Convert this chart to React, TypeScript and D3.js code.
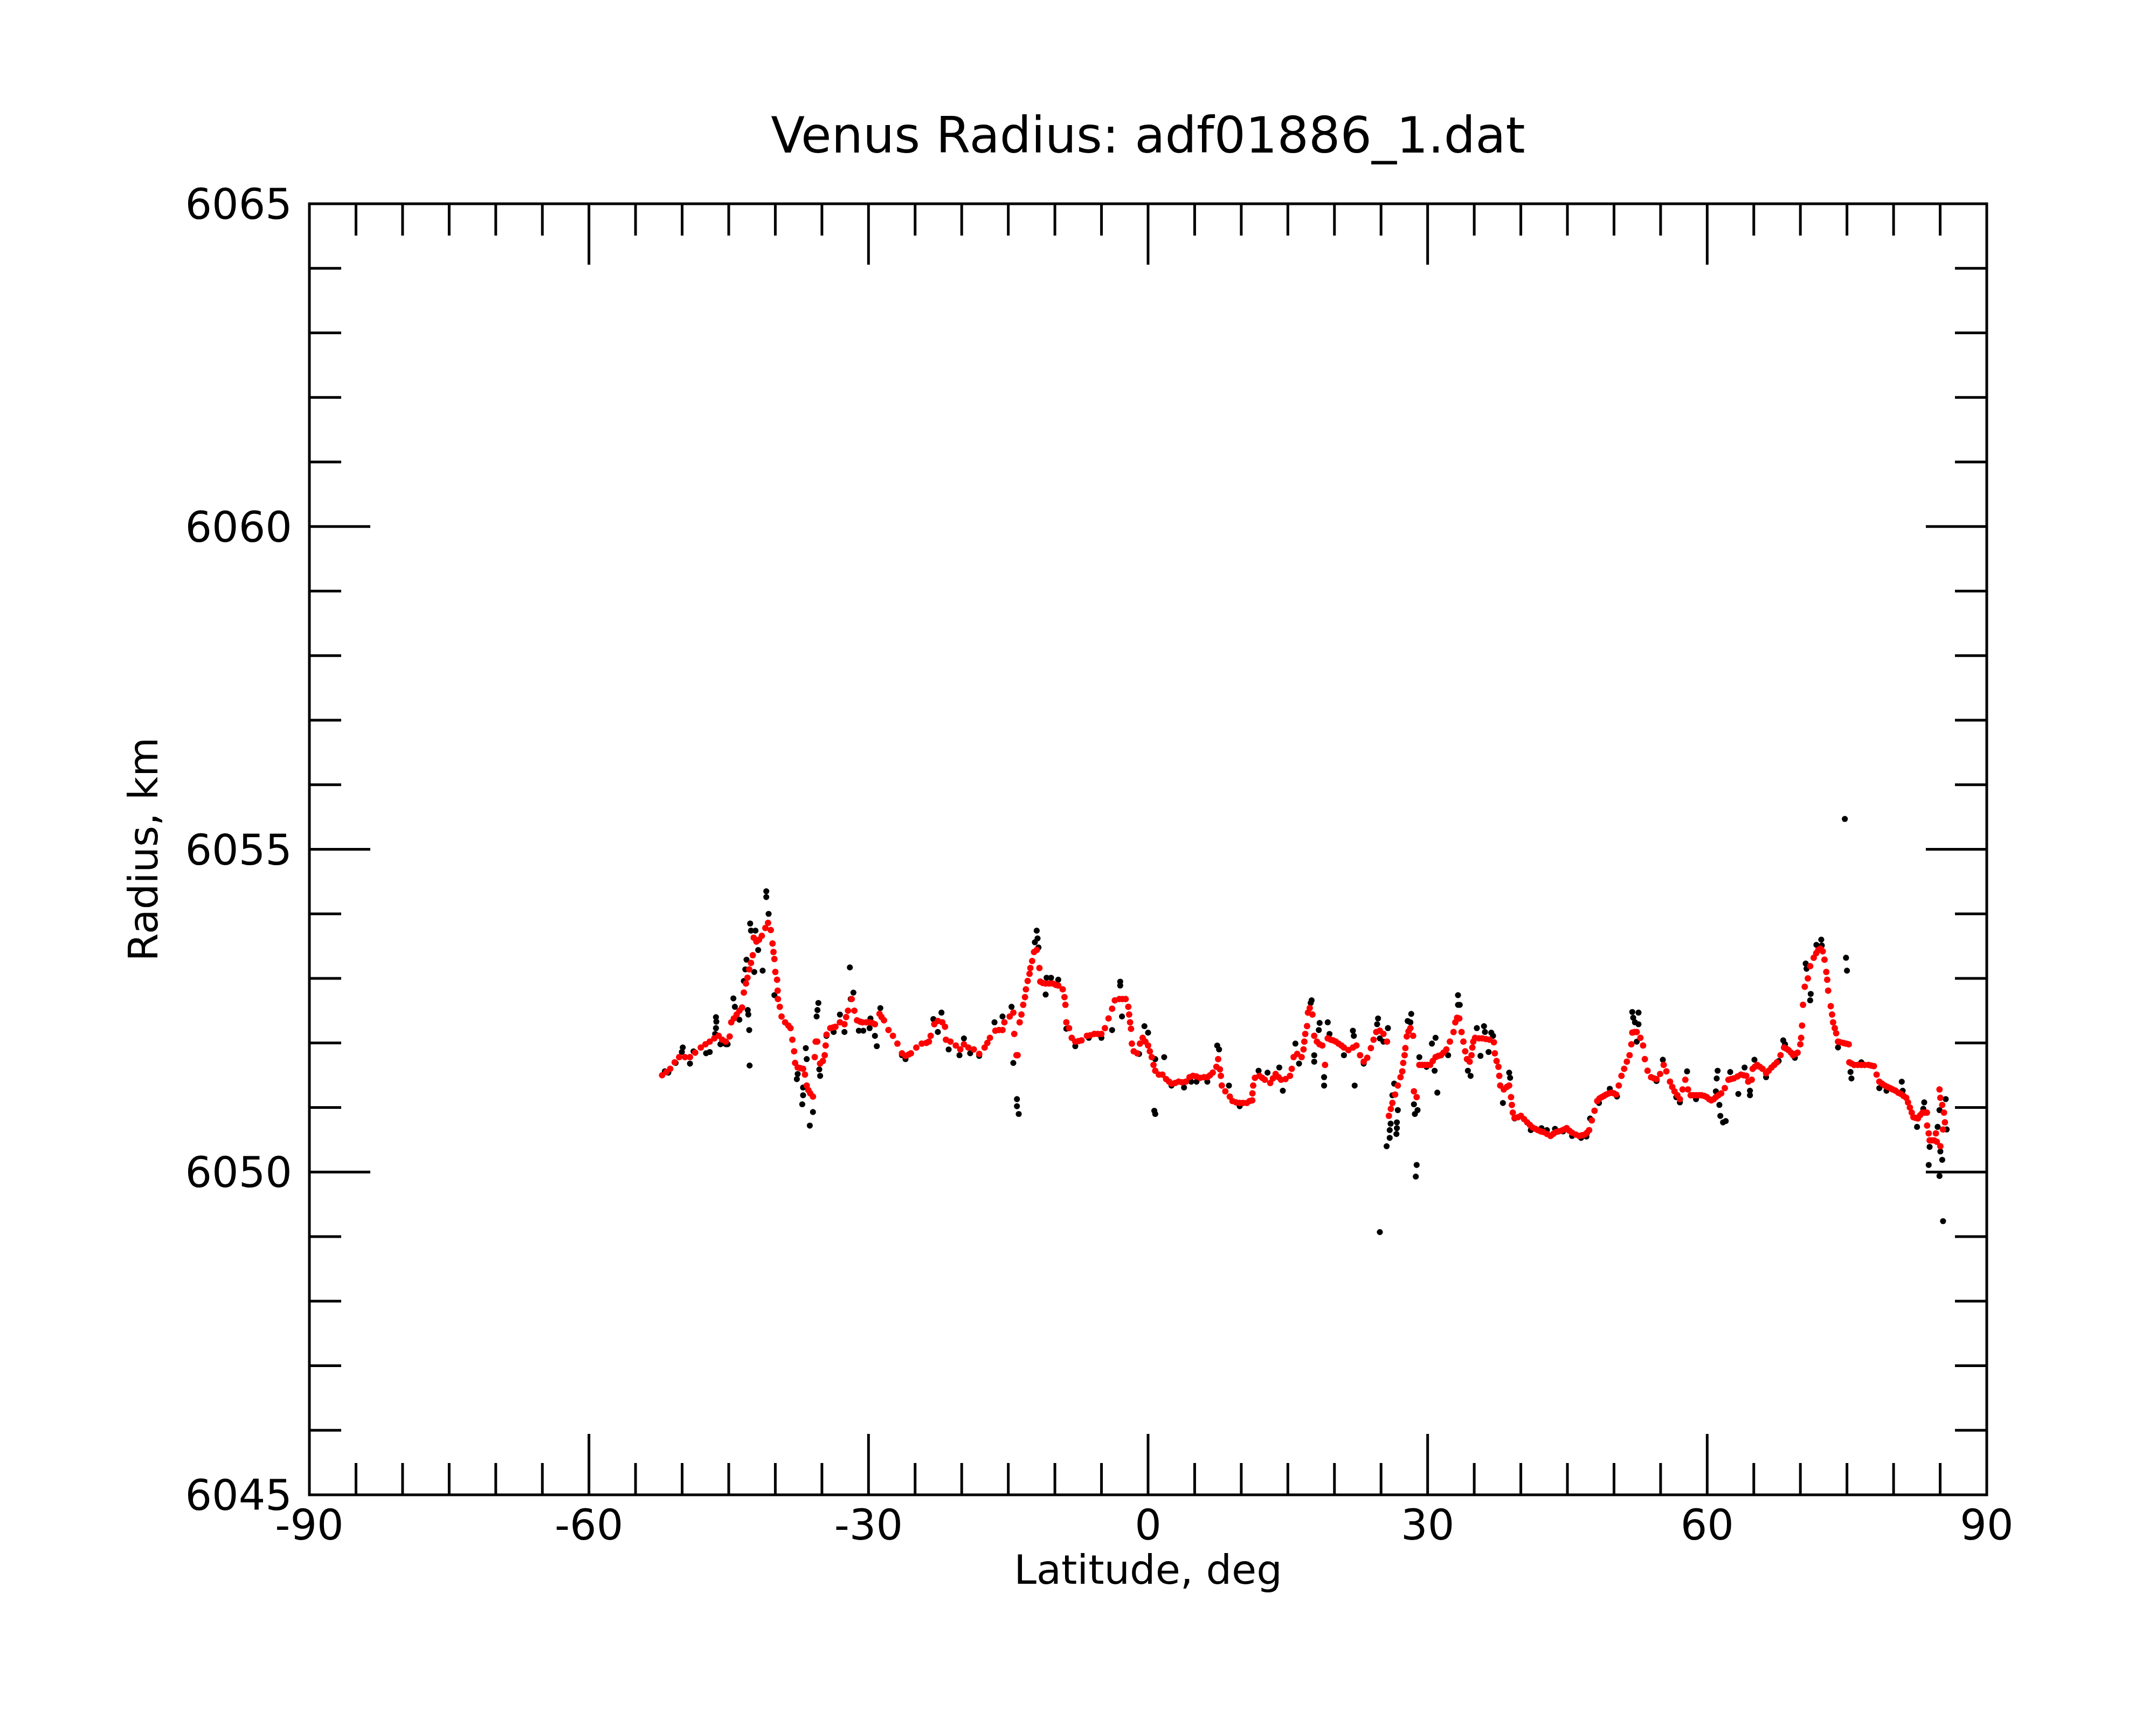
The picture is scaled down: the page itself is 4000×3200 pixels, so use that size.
import React, { useEffect, useRef } from 'react';
import * as d3 from 'd3';

// smoothed radius profile (red), [latitude deg, radius km]
const smoothed: [number, number][] = [
  [-52.15, 6051.5], [-51.7, 6051.55], [-51.28, 6051.6], [-50.8, 6051.7], [-50.32, 6051.78],
  [-49.7, 6051.78], [-49.16, 6051.78], [-48.6, 6051.85], [-48.0, 6051.93], [-47.5, 6051.98],
  [-47.04, 6052.02], [-46.55, 6052.07], [-46.08, 6052.11], [-45.7, 6052.05], [-45.31, 6052.02],
  [-44.9, 6052.1], [-44.73, 6052.32], [-44.45, 6052.38], [-44.15, 6052.44], [-43.85, 6052.5],
  [-43.57, 6052.55], [-43.38, 6052.78], [-43.15, 6052.92], [-42.99, 6053.01], [-42.8, 6053.14],
  [-42.61, 6053.24], [-42.42, 6053.36], [-42.32, 6053.63], [-42.03, 6053.57], [-41.75, 6053.6],
  [-41.45, 6053.66], [-41.07, 6053.78], [-40.78, 6053.86], [-40.49, 6053.75], [-40.3, 6053.54],
  [-40.2, 6053.41], [-40.1, 6053.3], [-40.0, 6053.1], [-39.81, 6052.98], [-39.75, 6052.81],
  [-39.72, 6052.68], [-39.52, 6052.56], [-39.33, 6052.41], [-38.95, 6052.32], [-38.6, 6052.27],
  [-38.37, 6052.23], [-38.17, 6052.05], [-37.98, 6051.87], [-37.88, 6051.69], [-37.6, 6051.62],
  [-37.3, 6051.61], [-37.02, 6051.6], [-36.82, 6051.51], [-36.63, 6051.34], [-36.45, 6051.27],
  [-36.25, 6051.22], [-35.96, 6051.17], [-35.77, 6051.78], [-35.67, 6052.02], [-35.5, 6052.02],
  [-35.2, 6051.68], [-34.9, 6051.72], [-34.7, 6051.81], [-34.6, 6051.96], [-34.5, 6052.13],
  [-34.1, 6052.23], [-33.8, 6052.24], [-33.55, 6052.25], [-33.07, 6052.32], [-32.58, 6052.29],
  [-32.4, 6052.4], [-32.2, 6052.5], [-31.81, 6052.68], [-31.52, 6052.5], [-31.23, 6052.35],
  [-30.9, 6052.33], [-30.66, 6052.32], [-30.25, 6052.32], [-29.88, 6052.32], [-29.6, 6052.31],
  [-29.31, 6052.29], [-28.82, 6052.45], [-28.6, 6052.4], [-28.34, 6052.35], [-27.86, 6052.2],
  [-27.38, 6052.11], [-26.9, 6051.99], [-26.41, 6051.84], [-26.03, 6051.8], [-25.7, 6051.82],
  [-25.45, 6051.84], [-24.87, 6051.93], [-24.29, 6051.99], [-23.8, 6052.0], [-23.52, 6052.02],
  [-23.33, 6052.11], [-22.94, 6052.29], [-22.56, 6052.34], [-22.08, 6052.32], [-21.79, 6052.25],
  [-21.69, 6052.05], [-21.21, 6052.02], [-20.63, 6051.96], [-20.15, 6051.9], [-19.76, 6051.98],
  [-19.28, 6051.93], [-18.7, 6051.9], [-18.12, 6051.83], [-17.54, 6051.93], [-17.25, 6052.0],
  [-16.97, 6052.08], [-16.39, 6052.19], [-16.0, 6052.2], [-15.62, 6052.2], [-15.42, 6052.32],
  [-14.85, 6052.41], [-14.46, 6052.47], [-14.36, 6052.14], [-14.12, 6051.81], [-14.0, 6051.81],
  [-13.78, 6052.32], [-13.59, 6052.44], [-13.4, 6052.59], [-13.21, 6052.71], [-13.11, 6052.83],
  [-12.92, 6052.96], [-12.72, 6053.07], [-12.63, 6053.16], [-12.44, 6053.27], [-12.24, 6053.41],
  [-11.95, 6053.44], [-11.66, 6053.16], [-11.57, 6052.95], [-11.3, 6052.93], [-10.99, 6052.92],
  [-10.6, 6052.92], [-10.22, 6052.92], [-9.9, 6052.9], [-9.64, 6052.89], [-9.16, 6052.83],
  [-8.97, 6052.71], [-8.87, 6052.59], [-8.77, 6052.32], [-8.48, 6052.23], [-8.19, 6052.08],
  [-7.81, 6052.02], [-7.45, 6052.03], [-7.14, 6052.04], [-6.56, 6052.11], [-6.2, 6052.12],
  [-5.78, 6052.14], [-5.4, 6052.14], [-5.01, 6052.14], [-4.63, 6052.23], [-4.24, 6052.38],
  [-3.86, 6052.53], [-3.57, 6052.66], [-3.09, 6052.68], [-2.75, 6052.68], [-2.41, 6052.68],
  [-2.12, 6052.56], [-2.03, 6052.44], [-1.93, 6052.32], [-1.83, 6052.22], [-1.74, 6051.99],
  [-1.54, 6051.87], [-1.16, 6051.84], [-0.87, 6051.99], [-0.58, 6052.08], [-0.29, 6052.02],
  [0.0, 6051.96], [0.19, 6051.87], [0.39, 6051.78], [0.58, 6051.66], [0.77, 6051.57],
  [1.16, 6051.51], [1.54, 6051.51], [1.93, 6051.44], [2.25, 6051.4], [2.51, 6051.37],
  [2.9, 6051.38], [3.28, 6051.4], [3.65, 6051.39], [4.05, 6051.4], [4.45, 6051.47],
  [4.82, 6051.49], [5.2, 6051.48], [5.59, 6051.46], [6.0, 6051.47], [6.36, 6051.47],
  [6.65, 6051.5], [6.94, 6051.54], [7.33, 6051.63], [7.52, 6051.75], [7.71, 6051.59],
  [7.81, 6051.49], [7.91, 6051.34], [8.29, 6051.25], [8.77, 6051.17], [9.06, 6051.1],
  [9.45, 6051.08], [9.83, 6051.07], [10.2, 6051.07], [10.6, 6051.07], [10.9, 6051.1],
  [11.18, 6051.11], [11.2, 6051.22], [11.28, 6051.34], [11.47, 6051.46], [11.95, 6051.49],
  [12.25, 6051.46], [12.53, 6051.43], [13.11, 6051.38], [13.4, 6051.45], [13.69, 6051.52],
  [14.0, 6051.47], [14.27, 6051.43], [14.75, 6051.44], [15.23, 6051.49], [15.42, 6051.6],
  [15.62, 6051.78], [16.0, 6051.83], [16.48, 6051.78], [16.68, 6051.9], [16.77, 6052.02],
  [16.87, 6052.14], [17.06, 6052.26], [17.16, 6052.47], [17.35, 6052.54], [17.64, 6052.44],
  [17.83, 6052.11], [18.12, 6052.02], [18.4, 6051.98], [18.7, 6051.96], [18.99, 6051.66],
  [19.28, 6052.07], [19.6, 6052.05], [19.86, 6052.04], [20.15, 6052.02], [20.44, 6051.99],
  [20.75, 6051.96], [21.02, 6051.93], [21.5, 6051.89], [21.98, 6051.93], [22.36, 6051.96],
  [22.75, 6051.81], [23.14, 6051.71], [23.52, 6051.77], [23.91, 6051.92], [24.2, 6052.05],
  [24.49, 6052.17], [24.87, 6052.19], [25.26, 6052.14], [25.64, 6052.02], [25.84, 6050.87],
  [26.05, 6050.98], [26.22, 6051.07], [26.51, 6051.2], [26.8, 6051.34], [27.09, 6051.47],
  [27.28, 6051.56], [27.38, 6051.69], [27.53, 6051.81], [27.61, 6051.92], [27.76, 6052.1],
  [27.95, 6052.18], [28.15, 6052.23], [28.44, 6052.11], [28.53, 6051.25], [28.82, 6051.16],
  [29.11, 6051.66], [29.4, 6051.66], [29.69, 6051.66], [30.0, 6051.66], [30.27, 6051.66],
  [30.55, 6051.72], [30.85, 6051.78], [31.15, 6051.8], [31.43, 6051.81], [31.7, 6051.85],
  [32.01, 6051.9], [32.39, 6052.02], [32.78, 6052.17], [32.97, 6052.32], [33.16, 6052.39],
  [33.4, 6052.38], [33.64, 6052.17], [33.84, 6052.02], [34.03, 6051.87], [34.22, 6051.75],
  [34.51, 6051.71], [34.71, 6051.81], [34.8, 6051.93], [34.9, 6052.02], [35.09, 6052.08],
  [35.5, 6052.07], [35.86, 6052.07], [36.25, 6052.06], [36.63, 6052.05], [37.11, 6052.01],
  [37.21, 6051.84], [37.4, 6051.72], [37.6, 6051.63], [37.69, 6051.49], [37.79, 6051.34],
  [38.17, 6051.28], [38.5, 6051.32], [38.75, 6051.34], [38.95, 6051.16], [39.04, 6051.04],
  [39.14, 6050.92], [39.33, 6050.84], [39.7, 6050.85], [40.01, 6050.87], [40.35, 6050.82],
  [40.68, 6050.77], [40.97, 6050.73], [41.26, 6050.69], [41.55, 6050.67], [41.84, 6050.65],
  [42.13, 6050.63], [42.42, 6050.62], [42.8, 6050.59], [43.19, 6050.56], [43.48, 6050.59],
  [43.77, 6050.62], [44.06, 6050.63], [44.35, 6050.64], [44.64, 6050.66], [44.92, 6050.68],
  [45.2, 6050.64], [45.5, 6050.61], [45.9, 6050.58], [46.27, 6050.56], [46.56, 6050.57],
  [46.85, 6050.58], [47.1, 6050.61], [47.33, 6050.65], [47.62, 6050.8], [47.91, 6050.95],
  [48.2, 6051.1], [48.44, 6051.14], [48.68, 6051.16], [48.92, 6051.18], [49.16, 6051.2],
  [49.45, 6051.22], [49.74, 6051.23], [49.99, 6051.22], [50.23, 6051.2], [50.51, 6051.34],
  [50.8, 6051.49], [51.09, 6051.6], [51.38, 6051.71], [51.67, 6051.81], [51.86, 6051.98],
  [51.96, 6052.16], [52.2, 6052.17], [52.44, 6052.17], [52.83, 6052.08], [53.12, 6051.96],
  [53.31, 6051.75], [53.6, 6051.57], [53.98, 6051.47], [54.3, 6051.45], [54.56, 6051.44],
  [54.95, 6051.52], [55.33, 6051.66], [55.62, 6051.56], [56.01, 6051.4], [56.25, 6051.32],
  [56.49, 6051.25], [56.8, 6051.19], [57.07, 6051.13], [57.36, 6051.28], [57.65, 6051.43],
  [57.94, 6051.28], [58.23, 6051.19], [58.5, 6051.19], [58.8, 6051.19], [59.1, 6051.19],
  [59.38, 6051.19], [59.67, 6051.18], [59.96, 6051.16], [60.2, 6051.13], [60.44, 6051.11],
  [60.7, 6051.13], [60.93, 6051.16], [61.2, 6051.19], [61.5, 6051.22], [61.89, 6051.3],
  [62.28, 6051.43], [62.55, 6051.44], [62.85, 6051.45], [63.25, 6051.48], [63.62, 6051.51],
  [63.9, 6051.5], [64.2, 6051.49], [64.4, 6051.4], [64.78, 6051.43], [64.88, 6051.6],
  [65.1, 6051.63], [65.36, 6051.66], [65.65, 6051.63], [65.94, 6051.6], [66.32, 6051.53],
  [66.6, 6051.57], [66.9, 6051.62], [67.2, 6051.66], [67.48, 6051.7], [67.87, 6051.81],
  [68.25, 6051.93], [68.5, 6051.91], [68.73, 6051.89], [69.0, 6051.85], [69.22, 6051.81],
  [69.46, 6051.83], [69.7, 6051.85], [69.99, 6051.98], [70.08, 6052.08], [70.18, 6052.27],
  [70.28, 6052.59], [70.47, 6052.87], [70.8, 6053.0], [71.05, 6053.19], [71.43, 6053.32],
  [71.7, 6053.39], [71.92, 6053.44], [72.15, 6053.46], [72.4, 6053.42], [72.59, 6053.29],
  [72.78, 6053.1], [72.88, 6052.98], [72.98, 6052.81], [73.26, 6052.57], [73.4, 6052.44],
  [73.51, 6052.32], [73.69, 6052.23], [73.84, 6052.15], [74.04, 6052.02], [74.3, 6052.01],
  [74.61, 6052.0], [74.9, 6051.99], [75.19, 6051.98], [75.25, 6051.7], [75.5, 6051.68],
  [75.77, 6051.66], [76.15, 6051.66], [76.54, 6051.66], [76.9, 6051.66], [77.31, 6051.66],
  [77.6, 6051.65], [77.89, 6051.64], [78.18, 6051.51], [78.47, 6051.4], [78.76, 6051.37],
  [79.05, 6051.34], [79.34, 6051.32], [79.63, 6051.3], [79.9, 6051.28], [80.2, 6051.26],
  [80.5, 6051.23], [80.78, 6051.21], [81.07, 6051.18], [81.36, 6051.15], [81.55, 6051.08],
  [81.75, 6051.0], [81.95, 6050.92], [82.13, 6050.85], [82.37, 6050.84], [82.61, 6050.83],
  [82.85, 6050.88], [83.1, 6050.92], [83.35, 6050.92], [83.58, 6050.92], [83.6, 6050.72],
  [83.77, 6050.6], [83.87, 6050.49], [84.1, 6050.49], [84.35, 6050.49], [84.54, 6050.6],
  [84.64, 6050.47], [85.02, 6050.4], [84.93, 6051.28], [85.02, 6051.15], [85.22, 6051.04],
  [85.41, 6050.92], [85.51, 6050.77], [85.31, 6050.66],
];

// raw measurements that stand out from the smoothed curve (black)
const raw: [number, number][] = [
  [-51.86, 6051.56], [-51.48, 6051.54], [-50.7, 6051.69], [-50.03, 6051.86], [-49.93, 6051.93],
  [-49.16, 6051.68], [-48.78, 6051.87], [-47.43, 6051.84], [-47.04, 6051.86], [-46.46, 6052.14],
  [-46.37, 6052.23], [-46.33, 6052.33], [-46.37, 6052.4], [-45.89, 6051.98], [-45.79, 6051.99],
  [-45.31, 6051.98], [-45.12, 6051.98], [-44.5, 6052.69], [-44.34, 6052.56], [-43.86, 6052.36],
  [-43.38, 6052.96], [-43.22, 6053.14], [-43.09, 6053.29], [-42.96, 6052.51], [-42.9, 6052.44],
  [-42.8, 6052.2], [-42.76, 6051.65], [-42.7, 6053.85], [-42.61, 6053.74], [-42.26, 6053.1],
  [-42.13, 6053.74], [-41.84, 6053.44], [-41.36, 6053.12], [-40.97, 6054.35], [-40.97, 6054.26],
  [-40.72, 6054.0], [-40.1, 6052.74], [-37.69, 6051.44], [-37.6, 6051.52], [-37.11, 6051.05],
  [-37.02, 6051.31], [-37.02, 6051.19], [-36.73, 6051.92], [-36.63, 6051.75], [-36.3, 6050.72],
  [-35.96, 6050.93], [-35.57, 6052.41], [-35.48, 6052.51], [-35.38, 6052.62], [-35.28, 6051.59],
  [-35.19, 6051.49], [-34.51, 6052.11], [-33.74, 6052.17], [-33.07, 6052.44], [-32.58, 6052.17],
  [-32.0, 6053.17], [-31.91, 6052.68], [-31.62, 6052.78], [-31.04, 6052.19], [-30.56, 6052.19],
  [-29.88, 6052.23], [-29.79, 6052.38], [-29.31, 6052.11], [-29.11, 6051.95], [-28.73, 6052.54],
  [-26.41, 6051.81], [-26.03, 6051.75], [-23.04, 6052.37], [-22.56, 6052.17], [-22.17, 6052.47],
  [-21.4, 6051.9], [-20.24, 6051.81], [-19.76, 6052.07], [-19.09, 6051.84], [-18.12, 6051.8],
  [-16.48, 6052.32], [-15.62, 6052.41], [-14.65, 6052.56], [-14.46, 6051.69], [-14.07, 6051.13],
  [-14.07, 6051.02], [-13.88, 6050.9], [-12.15, 6053.56], [-11.95, 6053.74], [-11.86, 6053.62],
  [-11.76, 6053.48], [-10.99, 6052.75], [-10.89, 6053.01], [-10.41, 6053.01], [-9.64, 6052.98],
  [-8.77, 6052.22], [-7.81, 6051.95], [-6.36, 6052.08], [-5.01, 6052.08], [-3.86, 6052.2],
  [-2.99, 6052.95], [-2.99, 6052.89], [-2.8, 6052.41], [-0.96, 6051.83], [-0.39, 6052.26],
  [0.0, 6052.16], [0.67, 6050.95], [0.77, 6050.9], [0.77, 6051.75], [1.73, 6051.78],
  [2.51, 6051.34], [3.86, 6051.31], [4.63, 6051.4], [5.2, 6051.4], [6.36, 6051.4],
  [7.42, 6051.96], [7.62, 6051.9], [8.68, 6051.34], [9.83, 6051.02], [11.86, 6051.57],
  [12.82, 6051.54], [14.08, 6051.62], [14.46, 6051.26], [15.81, 6051.99], [16.2, 6051.68],
  [17.45, 6052.62], [17.55, 6052.66], [17.83, 6051.81], [17.83, 6051.71], [18.32, 6052.2],
  [18.41, 6052.31], [18.89, 6051.47], [18.89, 6051.34], [19.28, 6052.32], [19.47, 6052.14],
  [21.02, 6051.81], [21.98, 6052.19], [22.08, 6052.11], [22.17, 6051.34], [23.14, 6051.68],
  [24.58, 6052.29], [24.68, 6052.38], [24.87, 6052.07], [24.87, 6049.07], [25.26, 6052.02],
  [25.6, 6050.4], [25.74, 6052.23], [25.93, 6050.65], [25.93, 6050.53], [26.03, 6050.75],
  [26.22, 6051.19], [26.41, 6051.37], [26.65, 6050.59], [26.7, 6050.77], [26.7, 6050.68],
  [26.8, 6050.96], [27.86, 6052.34], [28.15, 6052.32], [28.24, 6052.45], [28.53, 6051.05],
  [28.63, 6050.9], [28.73, 6049.93], [28.82, 6050.11], [28.92, 6050.96], [29.11, 6051.78],
  [29.88, 6051.63], [30.46, 6051.99], [30.75, 6051.57], [30.85, 6052.08], [31.04, 6051.23],
  [32.2, 6051.81], [33.26, 6052.74], [33.26, 6052.59], [33.45, 6052.59], [34.32, 6051.57],
  [34.61, 6051.49], [35.28, 6052.23], [35.67, 6051.8], [36.05, 6052.26], [36.15, 6052.17],
  [36.54, 6051.86], [36.83, 6052.16], [37.02, 6052.11], [38.08, 6051.07], [38.75, 6051.54],
  [38.85, 6051.46], [39.33, 6050.83], [41.07, 6050.65], [42.22, 6050.68], [42.8, 6050.65],
  [43.67, 6050.67], [44.54, 6050.63], [45.5, 6050.56], [46.47, 6050.53], [47.04, 6050.55],
  [47.43, 6050.83], [48.39, 6051.07], [49.55, 6051.29], [50.32, 6051.17], [51.96, 6052.48],
  [52.06, 6052.39], [52.25, 6052.32], [52.44, 6052.02], [52.63, 6052.47], [52.63, 6052.29],
  [54.56, 6051.41], [55.24, 6051.74], [56.68, 6051.16], [57.07, 6051.08], [57.84, 6051.56],
  [58.8, 6051.13], [59.86, 6051.17], [60.93, 6051.25], [61.02, 6051.45], [61.12, 6051.57],
  [61.31, 6051.04], [61.41, 6050.87], [61.7, 6050.77], [61.99, 6050.79], [62.47, 6051.55],
  [63.34, 6051.21], [64.01, 6051.62], [64.59, 6051.26], [64.59, 6051.19], [65.07, 6051.74],
  [66.32, 6051.47], [67.67, 6051.72], [68.16, 6052.04], [68.35, 6051.98], [69.41, 6051.77],
  [70.57, 6053.23], [70.66, 6053.15], [71.05, 6052.66], [71.11, 6052.76], [71.72, 6053.52],
  [72.24, 6053.6], [72.3, 6053.51], [74.04, 6051.93], [74.77, 6055.47], [74.9, 6053.32],
  [75.0, 6053.12], [75.38, 6051.55], [75.48, 6051.45], [76.54, 6051.7], [78.47, 6051.3],
  [79.24, 6051.26], [80.88, 6051.4], [80.98, 6051.26], [82.52, 6050.7], [83.19, 6050.98],
  [83.29, 6051.08], [83.77, 6050.11], [83.87, 6050.39], [84.73, 6050.7], [84.93, 6050.96],
  [84.93, 6049.94], [85.02, 6050.32], [85.22, 6050.19], [85.31, 6049.24], [85.6, 6051.13],
  [85.7, 6050.66],
];

const latTicks = [-90, -60, -30, 0, 30, 60, 90];
const radiusTicks = [6045, 6050, 6055, 6060, 6065];

const W = 4000;
const H = 3200;
const FONT = 'DejaVu Sans';

const App: React.FC = () => {
  const svgRef = useRef<SVGSVGElement>(null);

  useEffect(() => {
    if (!svgRef.current) return;
    const svg = d3.select(svgRef.current);
    svg.selectAll('*').remove();

    const x = d3.scaleLinear().domain([-90, 90]).range([574, 3686]);
    const y = d3.scaleLinear().domain([6045, 6065]).range([2773, 378]);
    const [x0, x1] = x.range();
    const [y0, y1] = y.range();

    svg.append('rect').attr('width', W).attr('height', H).attr('fill', 'white');

    // data: raw first, smoothed on top
    svg
      .append('g')
      .selectAll('circle')
      .data(raw)
      .enter()
      .append('circle')
      .attr('cx', (d) => x(d[0]))
      .attr('cy', (d) => y(d[1]))
      .attr('r', 5.6)
      .attr('fill', '#000');

    svg
      .append('g')
      .selectAll('circle')
      .data(smoothed)
      .enter()
      .append('circle')
      .attr('cx', (d) => x(d[0]))
      .attr('cy', (d) => y(d[1]))
      .attr('r', 6)
      .attr('fill', '#ff0000');

    // inward ticks on all four sides
    const xMinor = d3.range(-85, 90, 5).filter((v) => v % 30 !== 0);
    const xMajor = [-60, -30, 0, 30, 60];
    const yMinor = d3.range(6046, 6065, 1).filter((v) => v % 5 !== 0);
    const yMajor = [6050, 6055, 6060];
    const minorLen = 59;
    const majorLen = 113;

    const ticks = svg.append('g').attr('stroke', '#000').attr('stroke-width', 5);
    const addX = (vals: number[], len: number) => {
      vals.forEach((v) => {
        ticks.append('line').attr('x1', x(v)).attr('x2', x(v)).attr('y1', y0).attr('y2', y0 - len);
        ticks.append('line').attr('x1', x(v)).attr('x2', x(v)).attr('y1', y1).attr('y2', y1 + len);
      });
    };
    const addY = (vals: number[], len: number) => {
      vals.forEach((v) => {
        ticks.append('line').attr('x1', x0).attr('x2', x0 + len).attr('y1', y(v)).attr('y2', y(v));
        ticks.append('line').attr('x1', x1).attr('x2', x1 - len).attr('y1', y(v)).attr('y2', y(v));
      });
    };
    addX(xMinor, minorLen);
    addX(xMajor, majorLen);
    addY(yMinor, minorLen);
    addY(yMajor, majorLen);

    // frame
    svg
      .append('rect')
      .attr('x', x0)
      .attr('y', y1)
      .attr('width', x1 - x0)
      .attr('height', y0 - y1)
      .attr('fill', 'none')
      .attr('stroke', '#000')
      .attr('stroke-width', 5);

    // tick labels
    svg
      .append('g')
      .selectAll('text')
      .data(latTicks)
      .enter()
      .append('text')
      .attr('x', (d) => x(d))
      .attr('y', y0 + 83)
      .attr('text-anchor', 'middle')
      .style('font-family', FONT)
      .style('font-size', '78px')
      .text((d) => String(d));

    svg
      .append('g')
      .selectAll('text')
      .data(radiusTicks)
      .enter()
      .append('text')
      .attr('x', x0 - 32)
      .attr('y', (d) => y(d) + 28)
      .attr('text-anchor', 'end')
      .style('font-family', FONT)
      .style('font-size', '78px')
      .text((d) => String(d));

    // titles
    svg
      .append('text')
      .attr('x', (x0 + x1) / 2)
      .attr('y', 283)
      .attr('text-anchor', 'middle')
      .style('font-family', FONT)
      .style('font-size', '92px')
      .text('Venus Radius: adf01886_1.dat');

    svg
      .append('text')
      .attr('x', (x0 + x1) / 2)
      .attr('y', 2938)
      .attr('text-anchor', 'middle')
      .style('font-family', FONT)
      .style('font-size', '75px')
      .text('Latitude, deg');

    svg
      .append('text')
      .attr('transform', `translate(292,${(y0 + y1) / 2}) rotate(-90)`)
      .attr('text-anchor', 'middle')
      .style('font-family', FONT)
      .style('font-size', '75px')
      .text('Radius, km');
  }, []);

  return (
    <svg
      ref={svgRef}
      width={W}
      height={H}
      style={{ position: 'absolute', left: 0, top: 0, background: 'white' }}
    />
  );
};

export default App;
